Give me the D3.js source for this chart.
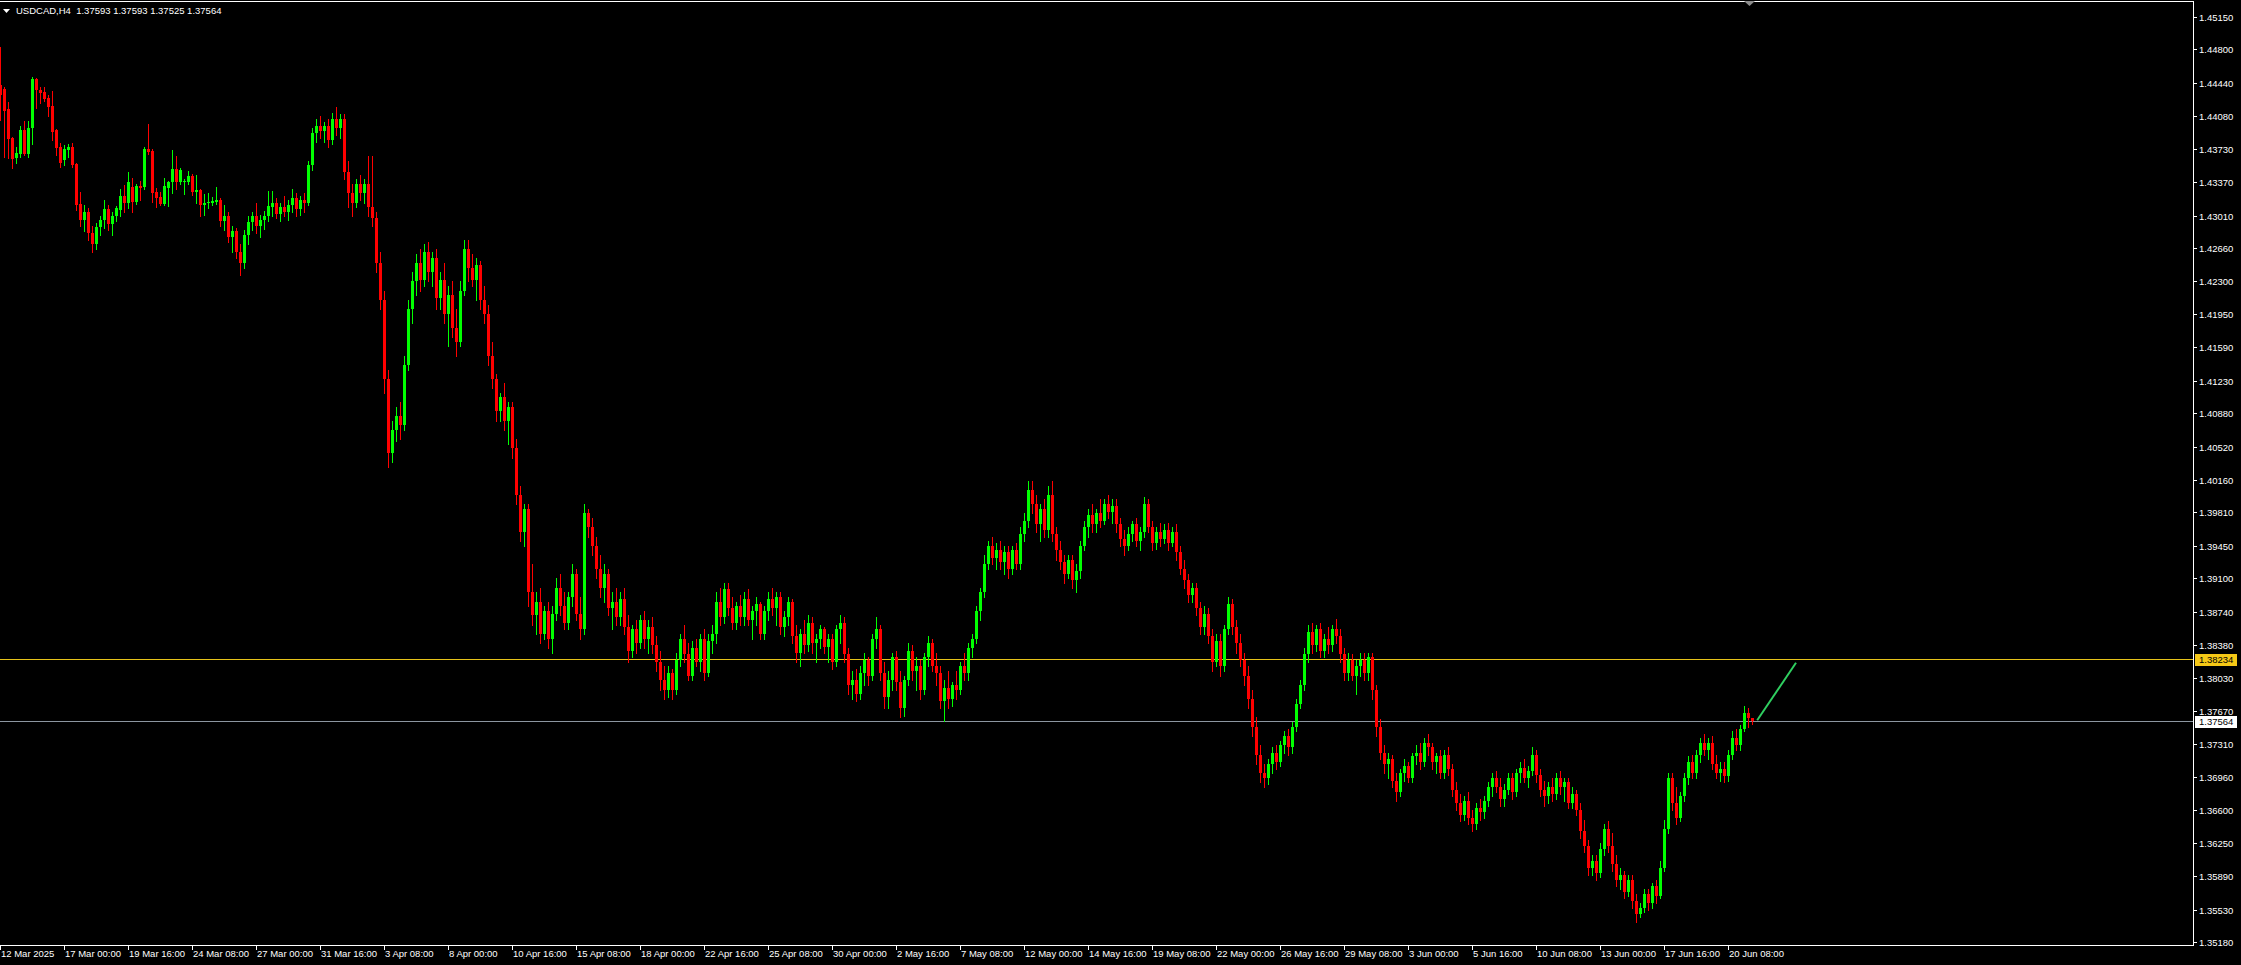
<!DOCTYPE html>
<html><head><meta charset="utf-8">
<script src="https://cdn.jsdelivr.net/npm/d3@7"></script>
<style>html,body{margin:0;padding:0;background:#000;overflow:hidden}svg{display:block}</style>
</head><body>
<script>
const symbol = "USDCAD", timeframe = "H4";

const opens = [
1.4442,1.4437,1.4416,1.4385,1.4363,1.4367,1.4393,1.4367,1.4395,1.4448,
1.4436,1.4434,1.4428,1.4419,1.4393,1.4375,1.4361,1.4372,1.4375,1.4357,
1.4313,1.4296,1.4305,1.4282,1.4270,1.4289,1.4296,1.4308,1.4292,1.4300,
1.4307,1.4322,1.4315,1.4332,1.4316,1.4333,1.4332,1.4373,1.4371,1.4326,
1.4321,1.4313,1.4331,1.4337,1.4351,1.4337,1.4337,1.4337,1.4344,1.4326,
1.4328,1.4312,1.4315,1.4315,1.4316,1.4318,1.4295,1.4300,1.4278,1.4284,
1.4262,1.4250,1.4280,1.4294,1.4300,1.4290,1.4296,1.4300,1.4310,1.4315,
1.4303,1.4310,1.4305,1.4312,1.4320,1.4308,1.4318,1.4315,1.4355,1.4390,
1.4398,1.4392,1.4398,1.4382,1.4405,1.4395,1.4405,1.4348,1.4325,1.4315,
1.4335,1.4325,1.4335,1.4310,1.4298,1.4250,1.4210,1.4125,1.4045,1.4070,
1.4085,1.4075,1.4140,1.4200,1.4230,1.4250,1.4232,1.4262,1.4240,1.4255,
1.4212,1.4232,1.4195,1.4215,1.4180,1.4165,1.4220,1.4265,1.4245,1.4232,
1.4248,1.4210,1.4195,1.4150,1.4125,1.4090,1.4105,1.4080,1.4095,1.4050,
1.4000,1.3960,1.3985,1.3895,1.3870,1.3885,1.3850,1.3875,1.3845,1.3872,
1.3900,1.3880,1.3862,1.3890,1.3915,1.3872,1.3855,1.3980,1.3965,1.3945,
1.3920,1.3900,1.3915,1.3878,1.3885,1.3868,1.3888,1.3858,1.3832,1.3855,
1.3840,1.3865,1.3845,1.3858,1.3838,1.3820,1.3800,1.3790,1.3808,1.3790,
1.3822,1.3845,1.3828,1.3805,1.3835,1.3820,1.3845,1.3808,1.3842,1.3850,
1.3885,1.3868,1.3898,1.3878,1.3862,1.3880,1.3868,1.3888,1.3865,1.3875,
1.3882,1.3850,1.3875,1.3888,1.3878,1.3890,1.3858,1.3868,1.3885,1.3848,
1.3830,1.3850,1.3838,1.3862,1.3840,1.3845,1.3855,1.3836,1.3845,1.3820,
1.3855,1.3862,1.3828,1.3795,1.3800,1.3785,1.3808,1.3822,1.3805,1.3845,
1.3855,1.3808,1.3782,1.3800,1.3825,1.3798,1.3770,1.3800,1.3832,1.3810,
1.3815,1.3790,1.3825,1.3840,1.3815,1.3808,1.3778,1.3792,1.3780,1.3795,
1.3790,1.3815,1.3808,1.3835,1.3845,1.3875,1.3895,1.3925,1.3945,1.3932,
1.3940,1.3928,1.3938,1.3920,1.3940,1.3925,1.3958,1.3972,1.4005,1.3990,
1.3968,1.3985,1.3962,1.4000,1.3958,1.3940,1.3928,1.3915,1.3930,1.3908,
1.3918,1.3945,1.3965,1.3978,1.3968,1.3980,1.3972,1.3990,1.3982,1.3988,
1.3968,1.3952,1.3945,1.3958,1.3968,1.3950,1.3960,1.3990,1.3965,1.3948,
1.3960,1.3952,1.3962,1.3948,1.3960,1.3938,1.3920,1.3908,1.3892,1.3900,
1.3878,1.3858,1.3872,1.3848,1.3820,1.3842,1.3815,1.3855,1.3882,1.3858,
1.3840,1.3822,1.3805,1.3780,1.3750,1.3720,1.3700,1.3695,1.3710,1.3722,
1.3712,1.3730,1.3740,1.3728,1.3750,1.3775,1.3795,1.3828,1.3852,1.3838,
1.3855,1.3832,1.3845,1.3838,1.3855,1.3848,1.3828,1.3808,1.3822,1.3805,
1.3815,1.3822,1.3808,1.3825,1.3790,1.3750,1.3722,1.3710,1.3715,1.3692,
1.3680,1.3700,1.3708,1.3695,1.3718,1.3722,1.3712,1.3732,1.3728,1.3712,
1.3718,1.3700,1.3720,1.3705,1.3682,1.3668,1.3655,1.3670,1.3652,1.3645,
1.3662,1.3658,1.3670,1.3685,1.3695,1.3685,1.3672,1.3682,1.3695,1.3680,
1.3700,1.3706,1.3695,1.3702,1.3720,1.3698,1.3682,1.3675,1.3685,1.3678,
1.3695,1.3685,1.3690,1.3668,1.3678,1.3660,1.3638,1.3622,1.3598,1.3605,
1.3592,1.3618,1.3640,1.3622,1.3602,1.3585,1.3590,1.3572,1.3585,1.3562,
1.3548,1.3555,1.3570,1.3560,1.3578,1.3568,1.3598,1.3640,1.3695,1.3668,
1.3652,1.3675,1.3695,1.3712,1.3700,1.3720,1.3732,1.3725,1.3732,1.3710,
1.3700,1.3705,1.3697,1.3720,1.3738,1.3730,1.3748,1.3765,1.37593];

const highs = [
1.4483,1.4440,1.4423,1.4386,1.4375,1.4397,1.4403,1.4403,1.4450,1.4449,
1.4440,1.4440,1.4431,1.4435,1.4394,1.4379,1.4377,1.4378,1.4379,1.4358,
1.4326,1.4312,1.4309,1.4290,1.4293,1.4300,1.4318,1.4312,1.4305,1.4311,
1.4330,1.4334,1.4348,1.4341,1.4335,1.4338,1.4375,1.4400,1.4373,1.4331,
1.4326,1.4342,1.4338,1.4372,1.4365,1.4352,1.4340,1.4349,1.4346,1.4345,
1.4330,1.4324,1.4325,1.4321,1.4332,1.4320,1.4312,1.4305,1.4290,1.4288,
1.4270,1.4285,1.4300,1.4305,1.4315,1.4302,1.4306,1.4327,1.4327,1.4320,
1.4315,1.4322,1.4318,1.4330,1.4325,1.4322,1.4325,1.4360,1.4395,1.4405,
1.4408,1.4402,1.4405,1.4412,1.4418,1.4410,1.4410,1.4360,1.4335,1.4340,
1.4345,1.4340,1.4365,1.4365,1.4305,1.4262,1.4220,1.4135,1.4080,1.4095,
1.4100,1.4150,1.4210,1.4240,1.4260,1.4265,1.4270,1.4272,1.4262,1.4265,
1.4240,1.4250,1.4225,1.4230,1.4200,1.4230,1.4275,1.4275,1.4260,1.4255,
1.4252,1.4225,1.4205,1.4165,1.4130,1.4110,1.4120,1.4100,1.4100,1.4060,
1.4010,1.3990,1.3990,1.3925,1.3895,1.3900,1.3880,1.3885,1.3880,1.3910,
1.3915,1.3895,1.3895,1.3925,1.3920,1.3890,1.3990,1.3985,1.3975,1.3955,
1.3935,1.3925,1.3920,1.3895,1.3900,1.3895,1.3900,1.3870,1.3860,1.3865,
1.3870,1.3875,1.3865,1.3868,1.3848,1.3832,1.3815,1.3815,1.3812,1.3830,
1.3850,1.3860,1.3840,1.3842,1.3845,1.3850,1.3855,1.3850,1.3860,1.3895,
1.3900,1.3905,1.3905,1.3890,1.3885,1.3892,1.3895,1.3898,1.3880,1.3890,
1.3885,1.3880,1.3895,1.3900,1.3895,1.3895,1.3875,1.3890,1.3888,1.3860,
1.3855,1.3865,1.3870,1.3868,1.3850,1.3860,1.3858,1.3850,1.3850,1.3860,
1.3870,1.3868,1.3835,1.3810,1.3812,1.3815,1.3830,1.3825,1.3850,1.3868,
1.3860,1.3820,1.3810,1.3830,1.3832,1.3810,1.3805,1.3840,1.3838,1.3825,
1.3822,1.3830,1.3848,1.3845,1.3830,1.3815,1.3800,1.3810,1.3798,1.3810,
1.3820,1.3830,1.3840,1.3850,1.3880,1.3900,1.3935,1.3950,1.3955,1.3948,
1.3950,1.3945,1.3945,1.3945,1.3948,1.3965,1.3980,1.4015,1.4015,1.4000,
1.3990,1.3995,1.4010,1.4015,1.3965,1.3950,1.3935,1.3935,1.3935,1.3925,
1.3950,1.3972,1.3985,1.3990,1.3985,1.3995,1.3995,1.4000,1.3995,1.3995,
1.3975,1.3962,1.3965,1.3972,1.3975,1.3965,1.3998,1.3995,1.3972,1.3965,
1.3970,1.3968,1.3970,1.3965,1.3968,1.3945,1.3930,1.3915,1.3905,1.3905,
1.3885,1.3880,1.3878,1.3855,1.3850,1.3850,1.3860,1.3890,1.3888,1.3865,
1.3850,1.3830,1.3815,1.3790,1.3760,1.3730,1.3710,1.3715,1.3728,1.3730,
1.3735,1.3745,1.3748,1.3755,1.3780,1.3800,1.3835,1.3860,1.3862,1.3860,
1.3862,1.3850,1.3858,1.3860,1.3866,1.3855,1.3835,1.3830,1.3828,1.3822,
1.3830,1.3830,1.3830,1.3830,1.3795,1.3758,1.3730,1.3722,1.3720,1.3700,
1.3705,1.3715,1.3712,1.3722,1.3730,1.3732,1.3738,1.3742,1.3732,1.3722,
1.3725,1.3725,1.3728,1.3710,1.3690,1.3678,1.3675,1.3680,1.3660,1.3668,
1.3672,1.3675,1.3690,1.3700,1.3702,1.3695,1.3688,1.3700,1.3700,1.3705,
1.3712,1.3715,1.3708,1.3728,1.3725,1.3705,1.3692,1.3690,1.3695,1.3700,
1.3702,1.3695,1.3695,1.3685,1.3682,1.3668,1.3650,1.3628,1.3612,1.3612,
1.3625,1.3645,1.3648,1.3635,1.3612,1.3598,1.3595,1.3590,1.3590,1.3570,
1.3560,1.3575,1.3575,1.3582,1.3585,1.3605,1.3650,1.3700,1.3700,1.3685,
1.3680,1.3700,1.3718,1.3720,1.3725,1.3738,1.3742,1.3738,1.3740,1.3720,
1.3712,1.3712,1.3725,1.3745,1.3748,1.3752,1.3772,1.3770,1.37593];

const lows = [
1.4404,1.4364,1.4363,1.4352,1.4358,1.4364,1.4366,1.4364,1.4378,1.4417,
1.4422,1.4424,1.4408,1.4382,1.4366,1.4353,1.4355,1.4364,1.4353,1.4307,
1.4290,1.4284,1.4275,1.4262,1.4265,1.4280,1.4288,1.4285,1.4280,1.4295,
1.4300,1.4305,1.4309,1.4305,1.4313,1.4318,1.4330,1.4367,1.4316,1.4310,
1.4312,1.4312,1.4311,1.4325,1.4330,1.4335,1.4324,1.4335,1.4323,1.4315,
1.4300,1.4302,1.4309,1.4312,1.4313,1.4290,1.4285,1.4272,1.4262,1.4255,
1.4237,1.4245,1.4270,1.4285,1.4282,1.4278,1.4286,1.4295,1.4300,1.4298,
1.4295,1.4300,1.4296,1.4305,1.4300,1.4302,1.4305,1.4312,1.4350,1.4380,
1.4385,1.4380,1.4375,1.4378,1.4388,1.4385,1.4340,1.4310,1.4300,1.4310,
1.4318,1.4315,1.4300,1.4290,1.4240,1.4200,1.4110,1.4030,1.4035,1.4058,
1.4060,1.4070,1.4135,1.4185,1.4215,1.4220,1.4225,1.4230,1.4225,1.4200,
1.4200,1.4185,1.4160,1.4170,1.4150,1.4160,1.4215,1.4230,1.4225,1.4210,
1.4200,1.4185,1.4140,1.4115,1.4080,1.4080,1.4070,1.4055,1.4040,1.3990,
1.3950,1.3945,1.3880,1.3860,1.3850,1.3840,1.3845,1.3835,1.3830,1.3865,
1.3870,1.3855,1.3855,1.3880,1.3865,1.3845,1.3850,1.3955,1.3935,1.3910,
1.3890,1.3885,1.3870,1.3855,1.3860,1.3860,1.3850,1.3820,1.3825,1.3830,
1.3835,1.3835,1.3830,1.3830,1.3810,1.3790,1.3780,1.3782,1.3780,1.3785,
1.3815,1.3820,1.3800,1.3800,1.3815,1.3810,1.3800,1.3805,1.3830,1.3840,
1.3860,1.3862,1.3870,1.3855,1.3855,1.3860,1.3860,1.3860,1.3845,1.3860,
1.3845,1.3845,1.3865,1.3870,1.3860,1.3850,1.3848,1.3860,1.3840,1.3820,
1.3815,1.3830,1.3832,1.3830,1.3820,1.3835,1.3830,1.3820,1.3812,1.3815,
1.3840,1.3820,1.3785,1.3780,1.3778,1.3780,1.3795,1.3795,1.3800,1.3835,
1.3800,1.3770,1.3770,1.3790,1.3790,1.3760,1.3762,1.3795,1.3800,1.3790,
1.3780,1.3785,1.3815,1.3810,1.3795,1.3770,1.3756,1.3770,1.3772,1.3780,
1.3785,1.3800,1.3800,1.3825,1.3840,1.3865,1.3890,1.3920,1.3925,1.3920,
1.3920,1.3915,1.3910,1.3915,1.3920,1.3920,1.3950,1.3965,1.3980,1.3960,
1.3950,1.3955,1.3955,1.3950,1.3930,1.3920,1.3905,1.3910,1.3900,1.3895,
1.3910,1.3940,1.3955,1.3960,1.3960,1.3965,1.3968,1.3975,1.3970,1.3960,
1.3945,1.3935,1.3940,1.3950,1.3945,1.3940,1.3955,1.3960,1.3940,1.3942,
1.3945,1.3948,1.3940,1.3945,1.3930,1.3915,1.3900,1.3885,1.3885,1.3870,
1.3850,1.3850,1.3840,1.3810,1.3815,1.3805,1.3810,1.3850,1.3850,1.3830,
1.3815,1.3795,1.3770,1.3740,1.3710,1.3690,1.3685,1.3688,1.3700,1.3705,
1.3708,1.3722,1.3720,1.3722,1.3745,1.3770,1.3790,1.3820,1.3830,1.3832,
1.3825,1.3825,1.3830,1.3832,1.3840,1.3820,1.3800,1.3800,1.3800,1.3785,
1.3805,1.3800,1.3800,1.3780,1.3740,1.3715,1.3700,1.3695,1.3685,1.3670,
1.3675,1.3692,1.3690,1.3690,1.3710,1.3705,1.3708,1.3720,1.3705,1.3700,
1.3695,1.3695,1.3698,1.3675,1.3660,1.3648,1.3650,1.3645,1.3638,1.3640,
1.3650,1.3652,1.3665,1.3675,1.3680,1.3665,1.3665,1.3678,1.3672,1.3675,
1.3690,1.3690,1.3685,1.3698,1.3690,1.3675,1.3665,1.3668,1.3670,1.3672,
1.3678,1.3670,1.3662,1.3662,1.3655,1.3630,1.3615,1.3590,1.3590,1.3585,
1.3588,1.3612,1.3615,1.3595,1.3578,1.3575,1.3565,1.3568,1.3555,1.3540,
1.3545,1.3550,1.3552,1.3555,1.3560,1.3565,1.3595,1.3635,1.3660,1.3645,
1.3648,1.3670,1.3688,1.3695,1.3695,1.3712,1.3720,1.3715,1.3705,1.3695,
1.3692,1.3690,1.3692,1.3715,1.3725,1.3725,1.3745,1.3750,1.37525];

const closes = [
1.4431,1.4414,1.4383,1.4362,1.4368,1.4393,1.4367,1.4395,1.4448,1.4436,
1.4433,1.4427,1.4418,1.4391,1.4374,1.4358,1.4373,1.4375,1.4355,1.4312,
1.4296,1.4305,1.4282,1.4270,1.4289,1.4296,1.4308,1.4292,1.4300,1.4309,
1.4322,1.4315,1.4337,1.4316,1.4333,1.4331,1.4373,1.4369,1.4325,1.4320,
1.4313,1.4333,1.4337,1.4351,1.4337,1.4350,1.4338,1.4344,1.4326,1.4328,
1.4312,1.4315,1.4316,1.4317,1.4318,1.4295,1.4300,1.4278,1.4284,1.4262,
1.4250,1.4280,1.4294,1.4300,1.4290,1.4296,1.4300,1.4311,1.4315,1.4303,
1.4310,1.4305,1.4312,1.4320,1.4308,1.4318,1.4315,1.4355,1.4390,1.4398,
1.4392,1.4398,1.4382,1.4405,1.4395,1.4405,1.4348,1.4325,1.4315,1.4335,
1.4325,1.4335,1.4310,1.4298,1.4250,1.4210,1.4125,1.4045,1.4070,1.4085,
1.4075,1.4140,1.4200,1.4230,1.4250,1.4232,1.4262,1.4240,1.4255,1.4212,
1.4232,1.4195,1.4215,1.4180,1.4165,1.4220,1.4265,1.4245,1.4232,1.4248,
1.4210,1.4195,1.4150,1.4125,1.4090,1.4105,1.4080,1.4095,1.4050,1.4000,
1.3960,1.3985,1.3895,1.3870,1.3885,1.3850,1.3875,1.3845,1.3872,1.3900,
1.3880,1.3862,1.3890,1.3915,1.3872,1.3855,1.3980,1.3965,1.3945,1.3920,
1.3900,1.3915,1.3878,1.3885,1.3868,1.3888,1.3858,1.3832,1.3855,1.3840,
1.3865,1.3845,1.3858,1.3838,1.3820,1.3800,1.3790,1.3808,1.3790,1.3822,
1.3845,1.3828,1.3805,1.3835,1.3820,1.3845,1.3808,1.3842,1.3850,1.3885,
1.3868,1.3898,1.3878,1.3862,1.3880,1.3868,1.3888,1.3865,1.3875,1.3882,
1.3850,1.3875,1.3888,1.3878,1.3890,1.3858,1.3868,1.3885,1.3848,1.3830,
1.3850,1.3838,1.3862,1.3840,1.3845,1.3855,1.3836,1.3845,1.3820,1.3855,
1.3862,1.3828,1.3795,1.3800,1.3785,1.3808,1.3822,1.3805,1.3845,1.3855,
1.3808,1.3782,1.3800,1.3825,1.3798,1.3770,1.3800,1.3832,1.3810,1.3815,
1.3790,1.3825,1.3840,1.3815,1.3808,1.3778,1.3792,1.3780,1.3795,1.3790,
1.3815,1.3808,1.3835,1.3845,1.3875,1.3895,1.3925,1.3945,1.3932,1.3940,
1.3928,1.3938,1.3920,1.3940,1.3925,1.3958,1.3972,1.4005,1.3990,1.3968,
1.3985,1.3962,1.4000,1.3958,1.3940,1.3928,1.3915,1.3930,1.3908,1.3918,
1.3945,1.3965,1.3978,1.3968,1.3980,1.3972,1.3990,1.3982,1.3988,1.3968,
1.3952,1.3945,1.3958,1.3968,1.3950,1.3960,1.3990,1.3965,1.3948,1.3960,
1.3952,1.3962,1.3948,1.3960,1.3938,1.3920,1.3908,1.3892,1.3900,1.3878,
1.3858,1.3872,1.3848,1.3820,1.3842,1.3815,1.3855,1.3882,1.3858,1.3840,
1.3822,1.3805,1.3780,1.3750,1.3720,1.3700,1.3695,1.3710,1.3722,1.3712,
1.3730,1.3740,1.3728,1.3750,1.3775,1.3795,1.3828,1.3852,1.3838,1.3855,
1.3832,1.3845,1.3838,1.3855,1.3848,1.3828,1.3808,1.3822,1.3805,1.3815,
1.3822,1.3808,1.3825,1.3790,1.3750,1.3722,1.3710,1.3715,1.3692,1.3680,
1.3700,1.3708,1.3695,1.3718,1.3722,1.3712,1.3732,1.3728,1.3712,1.3718,
1.3700,1.3720,1.3705,1.3682,1.3668,1.3655,1.3670,1.3652,1.3645,1.3662,
1.3658,1.3670,1.3685,1.3695,1.3685,1.3672,1.3682,1.3695,1.3680,1.3700,
1.3706,1.3695,1.3702,1.3720,1.3698,1.3682,1.3675,1.3685,1.3678,1.3695,
1.3685,1.3690,1.3668,1.3678,1.3660,1.3638,1.3622,1.3598,1.3605,1.3592,
1.3618,1.3640,1.3622,1.3602,1.3585,1.3590,1.3572,1.3585,1.3562,1.3548,
1.3555,1.3570,1.3560,1.3578,1.3568,1.3598,1.3640,1.3695,1.3668,1.3652,
1.3675,1.3695,1.3712,1.3700,1.3720,1.3732,1.3725,1.3732,1.3710,1.3700,
1.3705,1.3697,1.3720,1.3738,1.3730,1.3748,1.3765,1.3759,1.37564];

const priceTickLabels = ["1.45150","1.44800","1.44440","1.44080","1.43730","1.43370","1.43010",
"1.42660","1.42300","1.41950","1.41590","1.41230","1.40880","1.40520","1.40160","1.39810",
"1.39450","1.39100","1.38740","1.38380","1.38030","1.37670","1.37310","1.36960","1.36600",
"1.36250","1.35890","1.35530","1.35180"];

const dateTickLabels = ["12 Mar 2025","17 Mar 00:00","19 Mar 16:00","24 Mar 08:00","27 Mar 00:00",
"31 Mar 16:00","3 Apr 08:00","8 Apr 00:00","10 Apr 16:00","15 Apr 08:00","18 Apr 00:00",
"22 Apr 16:00","25 Apr 08:00","30 Apr 00:00","2 May 16:00","7 May 08:00","12 May 00:00",
"14 May 16:00","19 May 08:00","22 May 00:00","26 May 16:00","29 May 08:00","3 Jun 00:00",
"5 Jun 16:00","10 Jun 08:00","13 Jun 00:00","17 Jun 16:00","20 Jun 08:00"];
const barsPerDateTick = 16;

const levelPrice = 1.38234;   // yellow horizontal line
const bidPrice = 1.37564;     // bid line
const trendLine = [[439.3, 1.37570], [449.0, 1.38190]]; // [bar index, price]

// ---------- drawing ----------
const W = 2241, H = 965;
const plotRight = 2193, plotTop = 1, plotBottom = 945;
const x = d3.scaleLinear().domain([0, 1]).range([0, 4]);
const y = d3.scaleLinear().domain([1.35180, 1.45150]).range([942, 17]);
const font = "'Liberation Sans', Arial, sans-serif";

const svg = d3.select("body").append("svg").attr("width", W).attr("height", H)
  .style("background", "#000");

svg.append("defs").append("clipPath").attr("id", "plot")
  .append("rect").attr("x", 0).attr("y", plotTop).attr("width", plotRight).attr("height", plotBottom - plotTop);

const bars = d3.range(opens.length).map(i => ({i, o: opens[i], h: highs[i], l: lows[i], c: closes[i]}));

// horizontal level lines
svg.append("line").attr("x1", 0).attr("x2", plotRight)
  .attr("y1", Math.round(y(levelPrice)) + 0.5).attr("y2", Math.round(y(levelPrice)) + 0.5)
  .attr("stroke", "#e6c21a").attr("stroke-width", 1);
svg.append("line").attr("x1", 0).attr("x2", plotRight)
  .attr("y1", Math.round(y(bidPrice)) + 0.5).attr("y2", Math.round(y(bidPrice)) + 0.5)
  .attr("stroke", "#8c96a0").attr("stroke-width", 1);

const g = svg.append("g").attr("clip-path", "url(#plot)").attr("shape-rendering", "crispEdges");
const up = "#00ff00", dn = "#ff0000";
g.selectAll("rect.wick").data(bars).join("rect").attr("class", "wick")
  .attr("x", d => Math.round(x(d.i)))
  .attr("y", d => Math.round(y(d.h)))
  .attr("width", 1)
  .attr("height", d => Math.max(1, Math.round(y(d.l)) - Math.round(y(d.h)) + 1))
  .attr("fill", d => d.c >= d.o ? up : dn);
g.selectAll("rect.body").data(bars).join("rect").attr("class", "body")
  .attr("x", d => Math.round(x(d.i)) - 1)
  .attr("y", d => Math.round(y(Math.max(d.o, d.c))))
  .attr("width", 3)
  .attr("height", d => Math.max(1, Math.round(y(Math.min(d.o, d.c))) - Math.round(y(Math.max(d.o, d.c)))))
  .attr("fill", d => d.c >= d.o ? up : dn);

// trend line
svg.append("line")
  .attr("x1", x(trendLine[0][0])).attr("y1", y(trendLine[0][1]))
  .attr("x2", x(trendLine[1][0])).attr("y2", y(trendLine[1][1]))
  .attr("stroke", "#2fcf60").attr("stroke-width", 2);

// frame
const frame = svg.append("g").attr("shape-rendering", "crispEdges").attr("stroke", "#fff").attr("stroke-width", 1);
frame.append("line").attr("x1", 0).attr("x2", plotRight + 0.5).attr("y1", plotTop + 0.5).attr("y2", plotTop + 0.5);
frame.append("line").attr("x1", plotRight + 0.5).attr("x2", plotRight + 0.5).attr("y1", plotTop).attr("y2", plotBottom + 1);
frame.append("line").attr("x1", 0).attr("x2", plotRight + 0.5).attr("y1", plotBottom + 0.5).attr("y2", plotBottom + 0.5);

// price axis
const pt = svg.append("g");
priceTickLabels.forEach(s => {
  const yy = Math.round(y(+s));
  pt.append("line").attr("x1", plotRight).attr("x2", plotRight + 4).attr("y1", yy + 0.5).attr("y2", yy + 0.5)
    .attr("stroke", "#fff").attr("shape-rendering", "crispEdges");
  pt.append("text").attr("x", plotRight + 6).attr("y", yy + 3.5).text(s)
    .attr("fill", "#fff").attr("font-family", font).attr("font-size", 9.5);
});

// price tags for lines
function tag(price, bg) {
  const yy = Math.round(y(price));
  svg.append("rect").attr("x", plotRight + 2).attr("y", yy - 5).attr("width", 42).attr("height", 12)
    .attr("fill", bg).attr("shape-rendering", "crispEdges");
  svg.append("text").attr("x", plotRight + 6).attr("y", yy + 4).text(price.toFixed(5))
    .attr("fill", "#000").attr("font-family", font).attr("font-size", 9.5);
}
tag(levelPrice, "#f5c816");
tag(bidPrice, "#ffffff");

// date axis
const dt = svg.append("g");
dateTickLabels.forEach((s, k) => {
  const xx = Math.round(x(k * barsPerDateTick));
  dt.append("line").attr("x1", xx + 0.5).attr("x2", xx + 0.5).attr("y1", plotBottom).attr("y2", plotBottom + 5)
    .attr("stroke", "#fff").attr("shape-rendering", "crispEdges");
  dt.append("text").attr("x", xx + 1).attr("y", plotBottom + 12).text(s)
    .attr("fill", "#fff").attr("font-family", font).attr("font-size", 9.5);
});

// title
const last = bars[bars.length - 1];
svg.append("path").attr("d", "M3,9 L10,9 L6.5,13 Z").attr("fill", "#fff");
svg.append("text").attr("x", 16).attr("y", 14).attr("xml:space", "preserve")
  .style("white-space", "pre")
  .text(`${symbol},${timeframe}  ${last.o.toFixed(5)} ${last.h.toFixed(5)} ${last.l.toFixed(5)} ${last.c.toFixed(5)}`)
  .attr("fill", "#fff").attr("font-family", font).attr("font-size", 9.5);

// chart shift marker
svg.append("path").attr("d", "M1744,1 L1755,1 L1749.5,6 Z").attr("fill", "#8c8c8c");
</script>
</body></html>
